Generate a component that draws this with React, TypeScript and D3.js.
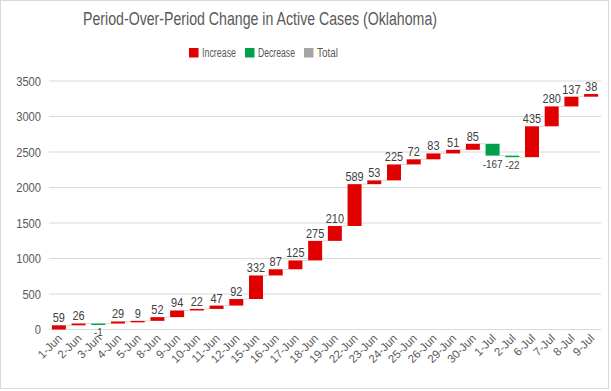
import React from "react";
import * as d3 from "d3";

const categories = ["1-Jun","2-Jun","3-Jun","4-Jun","5-Jun","8-Jun","9-Jun","10-Jun","11-Jun","12-Jun","15-Jun","16-Jun","17-Jun","18-Jun","19-Jun","22-Jun","23-Jun","24-Jun","25-Jun","26-Jun","29-Jun","30-Jun","1-Jul","2-Jul","6-Jul","7-Jul","8-Jul","9-Jul"];
const changes = [59,26,-1,29,9,52,94,22,47,92,332,87,125,275,210,589,53,225,72,83,51,85,-167,-22,435,280,137,38];
const yTicks = [0,500,1000,1500,2000,2500,3000,3500];
const legendItems = [
  { label: "Increase", color: "#E00000" },
  { label: "Decrease", color: "#00A04A" },
  { label: "Total", color: "#A5A5A5" },
];
const title = "Period-Over-Period Change in Active Cases (Oklahoma)";

const W = 611, H = 391;
const plotLeft = 49, plotRight = 601, plotTop = 81, plotBottom = 329.5;
const FONT = "'Liberation Sans', Arial, sans-serif";

// approximate Calibri-like widths for numeric strings
const numWidth = (s: string, digit: number) =>
  s.split("").reduce((w, ch) => w + (ch === "-" ? digit * 0.55 : digit), 0);

export default function App() {
  const x = d3.scaleBand<string>().domain(categories).range([plotLeft, plotRight]).paddingInner(0).paddingOuter(0);
  const y = d3.scaleLinear().domain([0, 3500]).range([plotBottom, plotTop]);
  const barW = x.bandwidth() * 0.71;

  let run = 0;
  const bars = changes.map((v, i) => {
    const start = run;
    run += v;
    return { cat: categories[i], v, start, end: run };
  });

  const legendX = [189, 245, 304];
  const legendW = [34, 37, 21];

  return (
    <svg width={W} height={H} style={{ position: "fixed", left: 0, top: 0, background: "#fff" }} fontFamily={FONT}>
      <rect x={0.5} y={0.5} width={608} height={388} fill="#fff" stroke="#D9D9D9" />
      <text x={83} y={25} fontSize={18} fill="#595959" textLength={354} lengthAdjust="spacingAndGlyphs">{title}</text>
      {legendItems.map((it, i) => (
        <g key={it.label}>
          <rect x={legendX[i]} y={48} width={9.5} height={9.5} fill={it.color} />
          <text x={legendX[i] + 13} y={57} fontSize={12} fill="#595959" textLength={legendW[i]} lengthAdjust="spacingAndGlyphs">{it.label}</text>
        </g>
      ))}
      {yTicks.map((t) => {
        const s = String(t);
        const w = numWidth(s, 6.2);
        return (
          <g key={t}>
            <line x1={plotLeft} x2={plotRight} y1={y(t)} y2={y(t)} stroke="#D9D9D9" strokeWidth={1} />
            <text x={41 - w} y={y(t) + 4.5} fontSize={12.5} fill="#595959" textLength={w} lengthAdjust="spacingAndGlyphs">{s}</text>
          </g>
        );
      })}
      {bars.slice(0, -1).map((b, i) => (
        <line key={"c" + i} x1={x(b.cat)! + x.bandwidth() / 2 + barW / 2} x2={x(bars[i + 1].cat)! + x.bandwidth() / 2 - barW / 2}
          y1={y(b.end)} y2={y(b.end)} stroke="#D9D9D9" strokeWidth={1} />
      ))}
      {bars.map((b) => {
        const cx = x(b.cat)! + x.bandwidth() / 2;
        const top = y(Math.max(b.start, b.end));
        const bot = y(Math.min(b.start, b.end));
        return (
          <rect key={b.cat} x={cx - barW / 2} y={top} width={barW} height={Math.max(bot - top, 1.5)}
            fill={b.v >= 0 ? legendItems[0].color : legendItems[1].color} />
        );
      })}
      {bars.map((b) => {
        const cx = x(b.cat)! + x.bandwidth() / 2;
        const neg = b.v < 0;
        const ly = neg ? y(b.end) + 12 : y(b.end) - 3;
        const s = String(b.v);
        const w = numWidth(s, neg ? 5.6 : 6.1);
        return (
          <text key={"l" + b.cat} x={cx - w / 2} y={ly} fontSize={neg ? 11 : 13} fill="#404040" textLength={w} lengthAdjust="spacingAndGlyphs">{s}</text>
        );
      })}
      {categories.map((c) => {
        const cx = x(c)! + x.bandwidth() / 2;
        return (
          <text key={"x" + c} transform={`translate(${cx + 4},${339}) rotate(-45)`} textAnchor="end" fontSize={11.5} fill="#595959">{c}</text>
        );
      })}
    </svg>
  );
}
